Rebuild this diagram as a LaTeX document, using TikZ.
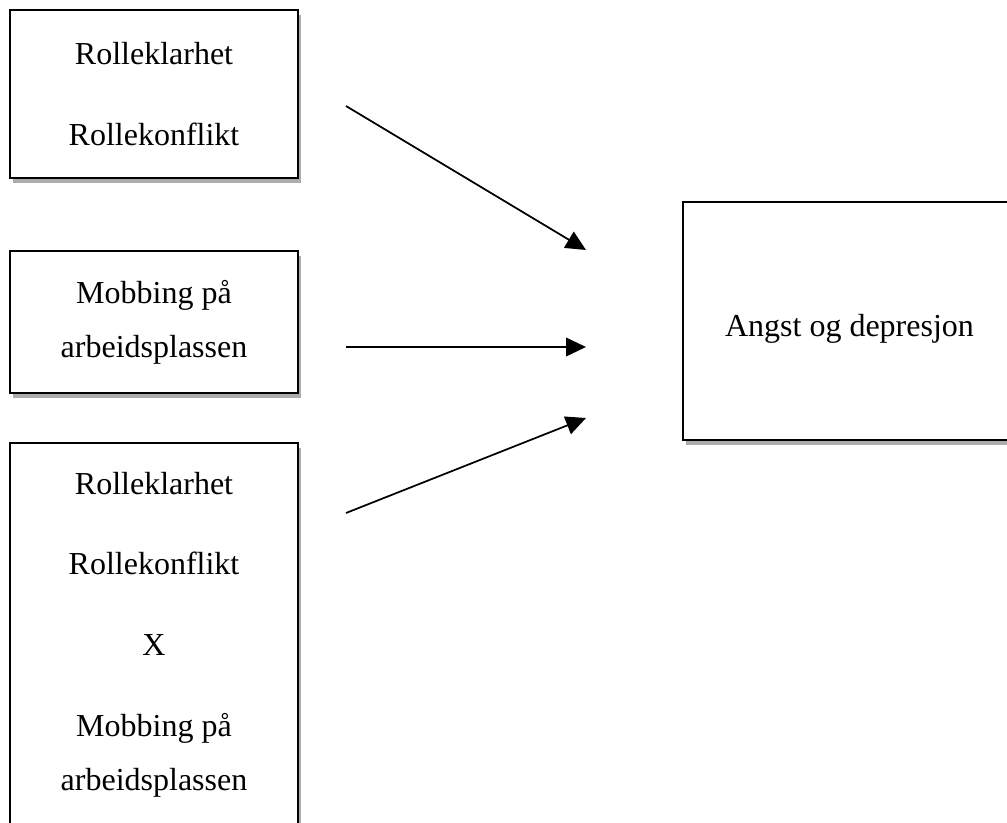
\documentclass[tikz,border=0pt]{standalone}
\usepackage{fontspec}
\setmainfont{Liberation Serif}
\usepackage{tikz}
\usetikzlibrary{arrows.meta, positioning, shadows}
\tikzstyle{box} = [rectangle, draw=black, line width=1.4pt, fill=white, text centered, align=center, minimum width=216pt, font=\fontsize{24}{40.5}\selectfont, drop shadow={shadow xshift=2.5pt, shadow yshift=-3.5pt, opacity=0.5, fill=black!65}]
\tikzstyle{arrow} = [line width=1.3pt, -{Triangle[length=15pt, width=14pt]}]

\begin{document}
\begin{tikzpicture}[x=0.75pt, y=-0.75pt]
        \useasboundingbox (0,0) rectangle (1007,823);
        \node (roller) [box, minimum height=126pt] at (154,94) {Rolleklarhet\\[20pt]Rollekonflikt};
        \node (mobbing) [box, minimum height=106.5pt] at (154,322) {Mobbing på\\arbeidsplassen};
        \node (samspill) [box, minimum height=287pt] at (154,634.5) {Rolleklarhet\\[20pt]Rollekonflikt\\[20pt]X\\[20pt]Mobbing på\\arbeidsplassen};
        \node (angst) [box, minimum width=250pt, minimum height=178.5pt] at (849.5,321) {\raisebox{-6pt}[\height][\depth]{Angst og depresjon}};

        \coordinate (a1) at (346,106);
        \coordinate (b1) at (586,250);
        \coordinate (a2) at (346,347);
        \coordinate (b2) at (586,347);
        \coordinate (a3) at (346,513);
        \coordinate (b3) at (586,418);

        \draw [arrow] (a1) -- (b1);
        \draw [arrow] (a2) -- (b2);
        \draw [arrow] (a3) -- (b3);
    \end{tikzpicture}
\end{document}
